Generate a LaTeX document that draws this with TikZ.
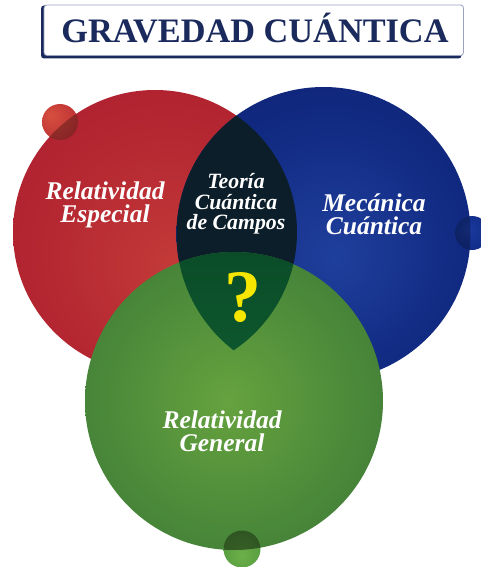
\documentclass[tikz,border=0pt]{standalone}
\usepackage{fontspec}
\setmainfont{Liberation Serif}

% palette
\definecolor{navy}{HTML}{1B2A5C}
\definecolor{frame}{HTML}{9AA2BE}
\definecolor{redin}{HTML}{C43B39}
\definecolor{redmid}{HTML}{AE1F2E}
\definecolor{redout}{HTML}{9B1128}
\definecolor{bluein}{HTML}{1F3F9C}
\definecolor{bluemid}{HTML}{112A82}
\definecolor{blueout}{HTML}{0A1A62}
\definecolor{greenin}{HTML}{66A23E}
\definecolor{greenmid}{HTML}{4A883A}
\definecolor{greenout}{HTML}{2C6433}
\definecolor{lens}{HTML}{0B1E2A}
\definecolor{coretop}{HTML}{0A4C28}
\definecolor{corebot}{HTML}{156C38}
\definecolor{qmark}{HTML}{F6E600}
\definecolor{redhi}{HTML}{D6503F}
\definecolor{redball}{HTML}{B0202E}
\definecolor{bluehi}{HTML}{1A3A9E}
\definecolor{blueball}{HTML}{0C2278}
\definecolor{greenhi}{HTML}{6CB048}
\definecolor{greenball}{HTML}{468E38}

% soft radial fills for the large discs and the small spheres
\pgfdeclareradialshading{redshade}{\pgfpoint{4bp}{-7bp}}{color(0bp)=(redin); color(18bp)=(redmid!60!redin); color(34bp)=(redmid); color(50bp)=(redout)}
\pgfdeclareradialshading{blueshade}{\pgfpoint{2bp}{-4bp}}{color(0bp)=(bluein); color(22bp)=(bluemid); color(50bp)=(blueout)}
\pgfdeclareradialshading{greenshade}{\pgfpoint{-1bp}{0bp}}{color(0bp)=(greenin); color(22bp)=(greenmid); color(50bp)=(greenout)}
\pgfdeclareradialshading{redsphere}{\pgfpoint{-14bp}{10bp}}{color(0bp)=(redhi); color(50bp)=(redball)}
\pgfdeclareradialshading{bluesphere}{\pgfpoint{-6bp}{6bp}}{color(0bp)=(bluehi); color(50bp)=(blueball)}
\pgfdeclareradialshading{greensphere}{\pgfpoint{0bp}{-10bp}}{color(0bp)=(greenhi); color(50bp)=(greenball)}

\tikzset{
  label/.style={text=white, align=center, font=\bfseries\itshape\fontsize{25.5}{23}\selectfont},
  smalllabel/.style={text=white, align=center, font=\bfseries\itshape\fontsize{21.8}{20.5}\selectfont},
  shadowside/.style={fill=black, fill opacity=0.28},
}

\begin{document}
\begin{tikzpicture}[x=1pt,y=-1pt]
\useasboundingbox (0,0) rectangle (481,567);
\fill[white] (0,0) rectangle (481,567);

% centres of the three discs
\coordinate (R) at (155,232);
\coordinate (B) at (323.5,234);
\coordinate (G) at (234,401);

% title plate
\fill[navy, rounded corners=3pt] (41,5.5) rectangle (461.5,58.5);
\filldraw[fill=white, draw=frame, line width=0.8pt, rounded corners=3pt] (44,5) rectangle (463.5,55.5);
\node[anchor=base, text=navy, font=\bfseries\fontsize{34.3}{40}\selectfont] (title) at (255,43) {GRAVEDAD CUÁNTICA};

% special relativity and quantum mechanics
\shade[shading=redshade] (R) circle (142pt);
\shade[shading=blueshade] (B) circle (147pt);
\begin{scope}
  \clip (R) circle (142pt);
  \fill[lens] (B) circle (147pt);
\end{scope}

% small spheres on the red and blue rims
\shade[shading=redsphere] (60,122) circle (18pt);
\begin{scope}
  \clip (R) circle (142pt);
  \fill[shadowside] (60,122) circle (18pt);
\end{scope}
\shade[shading=bluesphere] (472,233) circle (17pt);
\begin{scope}
  \clip (B) circle (147pt);
  \fill[shadowside] (472,233) circle (17pt);
\end{scope}

% general relativity
\shade[shading=greenshade] (G) circle (149pt);
\begin{scope}
  \clip (R) circle (142pt);
  \clip (B) circle (147pt);
  \shade[top color=coretop, bottom color=corebot] (G) circle (149pt);
\end{scope}

% small sphere at the bottom of the green disc
\shade[shading=greensphere] (242,549) circle (18.5pt);
\begin{scope}
  \clip (G) circle (149pt);
  \fill[fill=black, fill opacity=0.45] (242,549) circle (18.5pt);
\end{scope}

% labels
\node[label] (esp) at (105,205) {Relatividad\\Especial};
\node[smalllabel] (tcc) at (236,204) {Teoría\\Cuántica\\de Campos};
\node[label] (mec) at (374,214) {Mecánica\\Cuántica};
\node[label] (gen) at (222,431) {Relatividad\\General};
\node[text=qmark, font=\bfseries\fontsize{74}{74}\selectfont] (q) at (243,298) {?};
\end{tikzpicture}
\end{document}
